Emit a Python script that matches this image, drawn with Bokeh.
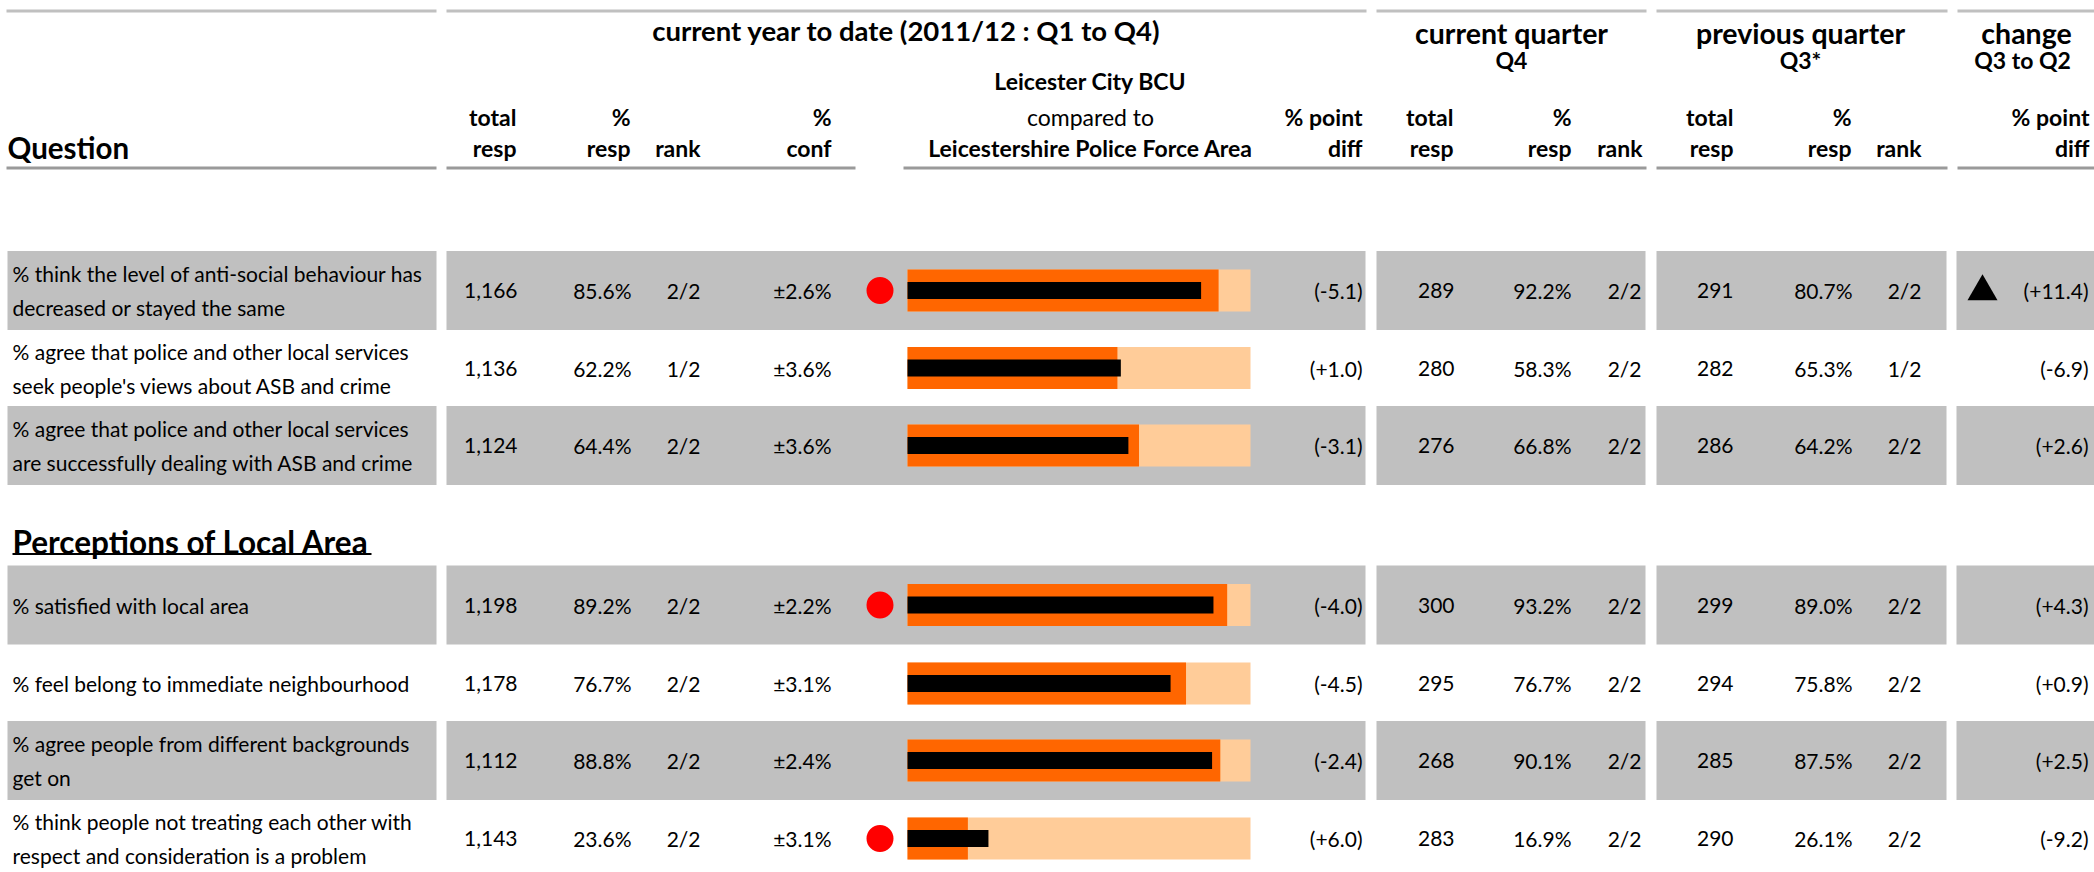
from bokeh.plotting import figure
from bokeh.models import Range1d, ColumnDataSource
from bokeh.core.properties import value
from bokeh.embed import file_html
from bokeh.resources import INLINE

# ---------------- data ----------------
questions = [
    "% think the level of anti-social behaviour has\ndecreased or stayed the same",
    "% agree that police and other local services\nseek people's views about ASB and crime",
    "% agree that police and other local services\nare successfully dealing with ASB and crime",
    "% satisfied with local area",
    "% feel belong to immediate neighbourhood",
    "% agree people from different backgrounds\nget on",
    "% think people not treating each other with\nrespect and consideration is a problem",
]
section_title = "Perceptions of Local Area"
ytd_total = [1166, 1136, 1124, 1198, 1178, 1112, 1143]
ytd_pct = [85.6, 62.2, 64.4, 89.2, 76.7, 88.8, 23.6]
ytd_rank = ["2/2", "1/2", "2/2", "2/2", "2/2", "2/2", "2/2"]
ytd_conf = [2.6, 3.6, 3.6, 2.2, 3.1, 2.4, 3.1]
ytd_diff = [-5.1, 1.0, -3.1, -4.0, -4.5, -2.4, 6.0]
ytd_flag = [True, False, False, True, False, False, True]
q4_total = [289, 280, 276, 300, 295, 268, 283]
q4_pct = [92.2, 58.3, 66.8, 93.2, 76.7, 90.1, 16.9]
q4_rank = ["2/2", "2/2", "2/2", "2/2", "2/2", "2/2", "2/2"]
q3_total = [291, 282, 286, 299, 294, 285, 290]
q3_pct = [80.7, 65.3, 64.2, 89.0, 75.8, 87.5, 26.1]
q3_rank = ["2/2", "1/2", "2/2", "2/2", "2/2", "2/2", "2/2"]
chg_diff = [11.4, -6.9, 2.6, 4.3, 0.9, 2.5, -9.2]
chg_flag = [True, False, False, False, False, False, False]
bullet_max = [100] * 7

# ---------------- layout (pixel space) ----------------
FONT = "Lato"
ROW_Y = [290, 367.5, 445, 604.5, 683, 760, 838]
SHADED = [True, False, True, True, False, True, False]
BAND_H = 79
SEGS = [(7, 436), (446, 1365), (1376, 1645), (1656, 1946), (1956, 2094)]
TOP_SEGS = [(6, 436), (446, 1366), (1376, 1646), (1656, 1947), (1957, 2094)]
BOT_SEGS = [(6, 436), (446, 855), (903, 1646), (1656, 1947), (1957, 2094)]
BUL0, BUL1 = 907, 1250

W, H = 2094, 872
p = figure(width=W, height=H, output_backend="svg", toolbar_location=None,
           x_range=Range1d(0, W), y_range=Range1d(H, 0),
           x_axis_location=None, y_axis_location=None, min_border=0)
p.grid.visible = False
p.outline_line_color = None
p.background_fill_color = "white"
p.border_fill_color = "white"

# percentage scale for bullets
k = (BUL1 - BUL0) / 100.0
p.extra_x_ranges["pct"] = Range1d((0 - BUL0) / k, (W - BUL0) / k)

# shaded row bands
bl, br, by = [], [], []
for i, y in enumerate(ROW_Y):
    if SHADED[i]:
        for a, b in SEGS:
            bl.append(a); br.append(b); by.append(y)
p.hbar(y=by, left=bl, right=br, height=BAND_H, fill_color="#C0C0C0", line_color=None)

# header rules
for a, b in TOP_SEGS:
    p.line([a, b], [10.5, 10.5], line_color="#C0C0C0", line_width=3)
for a, b in BOT_SEGS:
    p.line([a, b], [167.5, 167.5], line_color="#9A9A9A", line_width=3)


def txt(x, y, s, size, bold=False, align="left"):
    p.text(x=[x], y=[y], text=[s], text_font=value(FONT), text_font_size=f"{size}px",
           text_font_style="bold" if bold else "normal", text_align=align,
           text_baseline="middle", text_color="black")


# headers
TITLE, BIG, MED = 27.5, 28.5, 23
txt(7, 147, "Question", 29.5, True)
txt(906, 30, "current year to date (2011/12 : Q1 to Q4)", TITLE, True, "center")
txt(1511, 32, "current quarter", BIG, True, "center")
txt(1800, 32, "previous quarter", BIG, True, "center")
txt(2026, 32, "change", BIG, True, "center")
txt(1511, 59, "Q4", MED, True, "center")
txt(1800, 59, "Q3*", MED, True, "center")
txt(2022, 59, "Q3 to Q2", MED, True, "center")
txt(1090, 80, "Leicester City BCU", MED, True, "center")
txt(1090, 116, "compared to", MED, False, "center")
txt(1090, 147, "Leicestershire Police Force Area", MED, True, "center")
rowA = [(516, "total"), (630, "%"), (831, "%"), (1362, "% point"), (1453, "total"),
        (1571, "%"), (1733, "total"), (1851, "%"), (2089, "% point")]
rowB = [(516, "resp"), (630, "resp"), (700, "rank"), (831, "conf"), (1362, "diff"),
        (1453, "resp"), (1571, "resp"), (1642, "rank"), (1733, "resp"), (1851, "resp"),
        (1921, "rank"), (2089, "diff")]
for x, s in rowA:
    txt(x, 116, s, MED, True, "right")
for x, s in rowB:
    txt(x, 147, s, MED, True, "right")

# section title with underline
txt(12, 541, section_title, 31.5, True)
p.line([12, 371], [553.5, 553.5], line_color="black", line_width=2)

# question text
BODY = 21
qx, qy, qt = [], [], []
for i, q in enumerate(questions):
    lines = q.split("\n")
    if len(lines) == 1:
        qx.append(12); qy.append(ROW_Y[i]); qt.append(lines[0])
    else:
        qx += [12, 12]; qy += [ROW_Y[i] - 17, ROW_Y[i] + 17]; qt += lines
p.text(x=qx, y=qy, text=qt, text_font=value(FONT), text_font_size=f"{BODY}px",
       text_baseline="middle", text_align="left", text_color="black")


def col(x, strings):
    p.text(x=[x] * len(strings), y=ROW_Y, text=strings, text_font=value(FONT),
           text_font_size=f"{BODY}px", text_baseline="middle", text_align="right",
           text_color="black")


col(517, [f"{v:,}" for v in ytd_total])
col(631, [f"{v:.1f}%" for v in ytd_pct])
col(700, ytd_rank)
col(831, [f"\u00b1{v:.1f}%" for v in ytd_conf])
col(1362, [f"({v:+.1f})" for v in ytd_diff])
col(1454, [str(v) for v in q4_total])
col(1571, [f"{v:.1f}%" for v in q4_pct])
col(1641, q4_rank)
col(1733, [str(v) for v in q3_total])
col(1852, [f"{v:.1f}%" for v in q3_pct])
col(1921, q3_rank)
col(2088, [f"({v:+.1f})" for v in chg_diff])

# significance markers
dy = [ROW_Y[i] for i, f in enumerate(ytd_flag) if f]
p.scatter(x=[879.5] * len(dy), y=dy, size=27, marker="circle", fill_color="#FF0000", line_color=None)
ty = [ROW_Y[i] + 1 for i, f in enumerate(chg_flag) if f]
p.scatter(x=[1982] * len(ty), y=ty, size=30, marker="triangle", fill_color="black", line_color=None)

# bullets
force = [round(v - d, 1) for v, d in zip(ytd_pct, ytd_diff)]
src = ColumnDataSource(dict(y=ROW_Y, mx=bullet_max, force=force, val=ytd_pct))
p.hbar(y="y", left=0, right="mx", height=42, source=src, x_range_name="pct",
       fill_color="#FFCC99", line_color=None)
p.hbar(y="y", left=0, right="force", height=42, source=src, x_range_name="pct",
       fill_color="#FF6600", line_color=None)
p.hbar(y="y", left=0, right="val", height=17, source=src, x_range_name="pct",
       fill_color="black", line_color=None)

open("out.html", "w").write(file_html(p, INLINE))
